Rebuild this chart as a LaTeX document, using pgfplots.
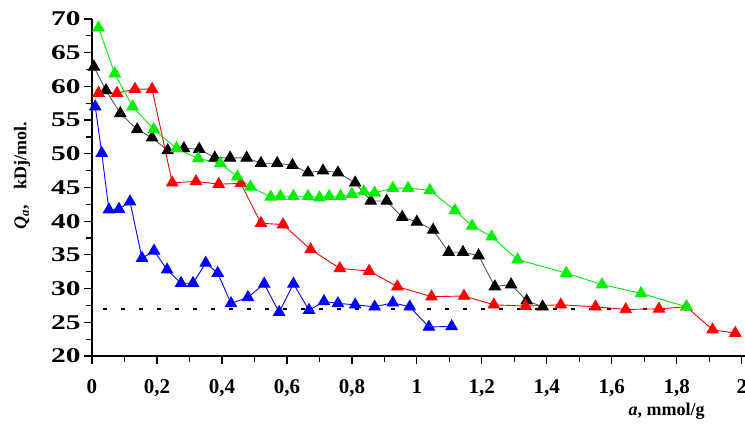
\documentclass[border=0pt]{standalone}
\usepackage{fontspec}
\setmainfont{Liberation Serif}
\usepackage{graphicx}
\usepackage{pgfplots}
\pgfplotsset{compat=1.18}
\definecolor{cgreen}{RGB}{0,240,0}
\definecolor{cred}{RGB}{255,0,0}
\definecolor{cblue}{RGB}{0,0,255}
\newcommand\yl[1]{\scalebox{1.4}[1]{#1}}
\begin{document}
\begin{tikzpicture}
\useasboundingbox (-92pt,-69pt) rectangle (653pt,356pt);
\begin{axis}[
  scale only axis, width=653pt, height=337pt,
  xmin=0, xmax=2.01, ymin=20, ymax=70,
  axis x line=bottom, axis y line=left,
  axis line style={-, line width=1.4pt},
  xtick={0,0.2,0.4,0.6,0.8,1,1.2,1.4,1.6,1.8,2},
  xticklabels={0,{0,2},{0,4},{0,6},{0,8},1,{1,2},{1,4},{1,6},{1,8},{2\hspace{5pt}}},
  minor xtick={0.1,0.3,0.5,0.7,0.9,1.1,1.3,1.5,1.7,1.9},
  ytick={20,25,30,35,40,45,50,55,60,65,70},
  yticklabels={\yl{20},\yl{25},\yl{30},\yl{35},\yl{40},\yl{45},\yl{50},\yl{55},\yl{60},\yl{65},\yl{70}},
  minor ytick={22.5,27.5,32.5,37.5,42.5,47.5,52.5,57.5,62.5,67.5},
  tick align=outside,
  major tick length=8pt, minor tick length=6pt,
  every tick/.style={black, line width=1.2pt},
  every minor tick/.style={black, line width=1.2pt},
  xticklabel style={font=\fontsize{21}{24}\selectfont\bfseries, anchor=north, yshift=-12pt},
  yticklabel style={font=\fontsize{21}{24}\selectfont\bfseries, anchor=east},
  every axis y label/.style={at={([xshift=-70pt]rel axis cs:0,0.535)}, rotate=90, anchor=center},
  every axis x label/.style={at={([yshift=-55pt]rel axis cs:0.88,0)}, anchor=center},
  ylabel={\fontsize{18}{20}\selectfont\bfseries\textit{Q}\textsubscript{\textit{a}},\hspace{16pt}kDj/mol.},
  xlabel={\fontsize{18}{20}\selectfont\bfseries\textit{a}, mmol/g},
  clip=false,
]
% dashed reference line
\addplot[black, line width=2pt, dash pattern=on 4pt off 14pt] coordinates {(0.035,27) (1.8,27)};
% blue
\addplot[cblue, line width=0.9pt, mark=triangle*, mark size=6.5pt, mark options={fill=cblue, draw=cblue}] coordinates {
(0.01,57.0) (0.03,50.1) (0.052,41.7) (0.083,41.8) (0.117,42.9) (0.154,34.5) (0.191,35.6)
(0.231,32.8) (0.274,30.8) (0.311,30.8) (0.35,33.8) (0.387,32.3) (0.428,27.8) (0.48,28.7)
(0.53,30.7) (0.576,26.5) (0.62,30.7) (0.668,26.8) (0.714,28.1) (0.757,27.8) (0.81,27.6)
(0.87,27.3) (0.926,27.9) (0.978,27.3) (1.037,24.3) (1.107,24.4)};
% black
\addplot[black!65, line width=0.9pt, mark=triangle*, mark size=6.5pt, mark options={fill=black, draw=black}] coordinates {
(0.006,62.9) (0.043,59.4) (0.087,56.0) (0.139,53.6) (0.185,52.4) (0.233,50.5) (0.283,50.8)
(0.33,50.7) (0.378,49.4) (0.425,49.4) (0.476,49.4) (0.52,48.6) (0.57,48.6) (0.617,48.3)
(0.665,47.2) (0.711,47.5) (0.757,47.2) (0.81,45.7) (0.858,43.0) (0.907,43.0) (0.955,40.6)
(1.0,39.9) (1.05,38.7) (1.098,35.4) (1.142,35.4) (1.19,34.9) (1.24,30.3) (1.29,30.6)
(1.338,28.2) (1.387,27.3)};
% red
\addplot[cred, line width=0.9pt, mark=triangle*, mark size=6.5pt, mark options={fill=cred, draw=cred}] coordinates {
(0.02,59.0) (0.077,59.0) (0.132,59.6) (0.185,59.6) (0.247,45.7) (0.32,45.9) (0.39,45.5)
(0.458,45.6) (0.52,39.7) (0.588,39.5) (0.673,35.8) (0.763,33.0) (0.853,32.6) (0.94,30.3)
(1.045,28.8) (1.145,28.9) (1.237,27.6) (1.335,27.4) (1.443,27.6) (1.55,27.3) (1.643,26.9)
(1.745,27.0) (1.83,27.3) (1.91,23.9) (1.98,23.4)};
% green
\addplot[cgreen, line width=0.9pt, mark=triangle*, mark size=6.5pt, mark options={fill=cgreen, draw=cgreen}] coordinates {
(0.02,68.7) (0.07,61.9) (0.125,57.0) (0.19,53.6) (0.26,50.8) (0.327,49.3) (0.395,48.6)
(0.447,46.6) (0.488,45.1) (0.55,43.6) (0.58,43.7) (0.62,43.7) (0.665,43.7) (0.70,43.5)
(0.73,43.7) (0.765,43.7) (0.80,44.0) (0.837,44.4) (0.87,44.2) (0.926,44.9) (0.973,44.9)
(1.04,44.6) (1.117,41.6) (1.17,39.3) (1.23,37.7) (1.31,34.3) (1.46,32.3) (1.57,30.6)
(1.69,29.3) (1.83,27.3)};
\end{axis}
\end{tikzpicture}
\end{document}
